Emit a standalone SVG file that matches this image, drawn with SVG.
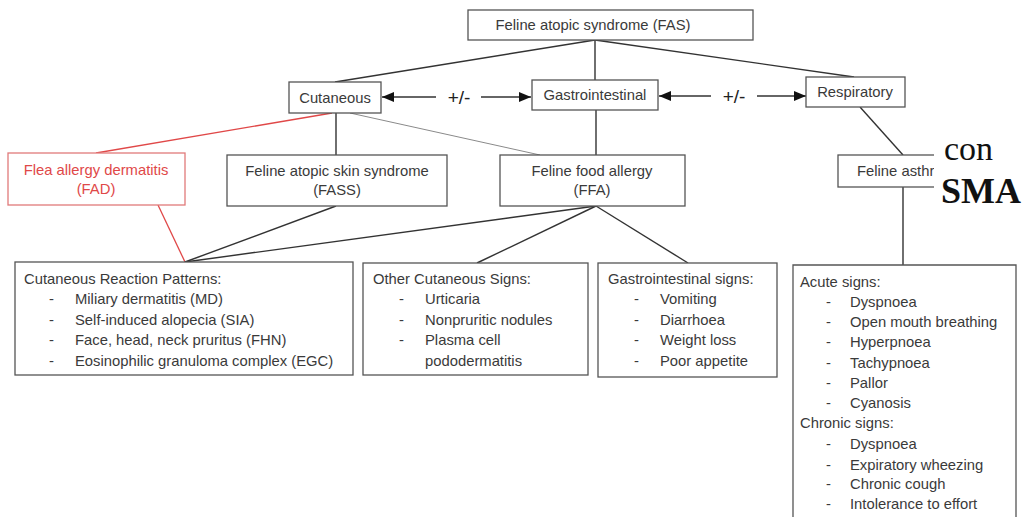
<svg xmlns="http://www.w3.org/2000/svg" width="1024" height="517" viewBox="0 0 1024 517">
  <defs>
    <style>
      .box { fill: #ffffff; stroke: #555555; stroke-width: 1.3; }
      .red-box { fill: #ffffff; stroke: #e07a7a; stroke-width: 1.3; }
      .t { font-family: "Liberation Sans", Arial, sans-serif; font-size: 14.8px; fill: #3a3a3a; }
      .tc { text-anchor: middle; }
      .red { fill: #e04848; }
      .link { stroke: #333333; stroke-width: 1.4; fill: none; }
      .thin { stroke: #8a8a8a; stroke-width: 1; fill: none; }
      .rlink { stroke: #e04848; stroke-width: 1.3; fill: none; }
      .pm { font-family: "Liberation Sans", Arial, sans-serif; font-size: 19px; fill: #222222; text-anchor: middle; }
      .serif { font-family: "Liberation Serif", "Times New Roman", serif; fill: #111111; }
    </style>
    <marker id="head" viewBox="0 0 12 10" refX="12" refY="5" markerWidth="12" markerHeight="10" markerUnits="userSpaceOnUse" orient="auto-start-reverse">
      <path d="M0,0 L12,5 L0,10 z" fill="#111111"/>
    </marker>
  </defs>

  <!-- connectors -->
  <g id="connectors">
    <line class="link" x1="595" y1="40" x2="335" y2="82"/>
    <line class="link" x1="595" y1="40" x2="595" y2="80"/>
    <line class="link" x1="595" y1="40" x2="854" y2="77"/>
    <!-- +/- double arrows -->
    <line class="link" x1="436" y1="97" x2="382" y2="97" marker-end="url(#head)"/>
    <line class="link" x1="481" y1="97" x2="531" y2="97" marker-end="url(#head)"/>
    <line class="link" x1="711" y1="96" x2="659" y2="96" marker-end="url(#head)"/>
    <line class="link" x1="757" y1="96" x2="806" y2="96" marker-end="url(#head)"/>
    <!-- second level -->
    <line class="rlink" x1="332" y1="113" x2="96" y2="153"/>
    <line class="link" x1="336" y1="113" x2="336" y2="155"/>
    <line class="thin" x1="350" y1="113" x2="540" y2="155"/>
    <line class="link" x1="596" y1="110" x2="596" y2="155"/>
    <line class="link" x1="860" y1="107" x2="903" y2="155"/>
    <!-- third level -->
    <line class="rlink" x1="158" y1="205" x2="185" y2="262"/>
    <line class="link" x1="336" y1="206" x2="185" y2="262"/>
    <line class="link" x1="596" y1="206" x2="185" y2="262"/>
    <line class="link" x1="596" y1="206" x2="477" y2="263"/>
    <line class="link" x1="596" y1="206" x2="688" y2="263"/>
    <line class="link" x1="903" y1="187" x2="903" y2="265"/>
  </g>

  <g id="pm-labels">
    <text class="pm" x="459" y="104">+/-</text>
    <text class="pm" x="734" y="103">+/-</text>
  </g>

  <g id="fas">
    <rect class="box" x="468" y="10" width="285" height="30"/>
    <text class="t tc" x="593" y="30">Feline atopic syndrome (FAS)</text>
  </g>

  <g id="cutaneous">
    <rect class="box" x="289" y="82" width="92" height="31"/>
    <text class="t tc" x="335" y="103">Cutaneous</text>
  </g>

  <g id="gastrointestinal">
    <rect class="box" x="532" y="80" width="126" height="30"/>
    <text class="t tc" x="595" y="100">Gastrointestinal</text>
  </g>

  <g id="respiratory">
    <rect class="box" x="806" y="77" width="99" height="30"/>
    <text class="t tc" x="855" y="97">Respiratory</text>
  </g>

  <g id="fad">
    <rect class="red-box" x="8" y="153" width="177" height="52"/>
    <text class="t tc red" x="96" y="175">Flea allergy dermatitis</text>
    <text class="t tc red" x="96" y="194">(FAD)</text>
  </g>

  <g id="fass">
    <rect class="box" x="227" y="155" width="220" height="51"/>
    <text class="t tc" x="337" y="176">Feline atopic skin syndrome</text>
    <text class="t tc" x="337" y="195">(FASS)</text>
  </g>

  <g id="ffa">
    <rect class="box" x="500" y="155" width="185" height="51"/>
    <text class="t tc" x="592" y="176">Feline food allergy</text>
    <text class="t tc" x="592" y="195">(FFA)</text>
  </g>

  <g id="asthma">
    <rect class="box" x="838" y="155" width="120" height="32"/>
    <text class="t" x="857" y="176">Feline asthr</text>
  </g>

  <g id="reaction-patterns">
    <rect class="box" x="15" y="262" width="338" height="113"/>
    <text class="t" x="24" y="284">Cutaneous Reaction Patterns:</text>
    <g class="t">
      <text x="49" y="304">-</text><text x="75" y="304">Miliary dermatitis (MD)</text>
      <text x="49" y="325">-</text><text x="75" y="325">Self-induced alopecia (SIA)</text>
      <text x="49" y="345">-</text><text x="75" y="345">Face, head, neck pruritus (FHN)</text>
      <text x="49" y="366">-</text><text x="75" y="366">Eosinophilic granuloma complex (EGC)</text>
    </g>
  </g>

  <g id="other-cutaneous">
    <rect class="box" x="363" y="263" width="225" height="112"/>
    <text class="t" x="373" y="284">Other Cutaneous Signs:</text>
    <g class="t">
      <text x="399" y="304">-</text><text x="425" y="304">Urticaria</text>
      <text x="399" y="325">-</text><text x="425" y="325">Nonpruritic nodules</text>
      <text x="399" y="345">-</text><text x="425" y="345">Plasma cell</text>
      <text x="425" y="366">pododermatitis</text>
    </g>
  </g>

  <g id="gi-signs">
    <rect class="box" x="598" y="263" width="179" height="114"/>
    <text class="t" x="608" y="284">Gastrointestinal signs:</text>
    <g class="t">
      <text x="634" y="304">-</text><text x="660" y="304">Vomiting</text>
      <text x="634" y="325">-</text><text x="660" y="325">Diarrhoea</text>
      <text x="634" y="345">-</text><text x="660" y="345">Weight loss</text>
      <text x="634" y="366">-</text><text x="660" y="366">Poor appetite</text>
    </g>
  </g>

  <g id="asthma-signs">
    <path class="box" d="M793,530 L793,265 L1016,265 L1016,530"/>
    <text class="t" x="800" y="287">Acute signs:</text>
    <g class="t">
      <text x="826" y="307">-</text><text x="850" y="307">Dyspnoea</text>
      <text x="826" y="327">-</text><text x="850" y="327">Open mouth breathing</text>
      <text x="826" y="347">-</text><text x="850" y="347">Hyperpnoea</text>
      <text x="826" y="368">-</text><text x="850" y="368">Tachypnoea</text>
      <text x="826" y="388">-</text><text x="850" y="388">Pallor</text>
      <text x="826" y="408">-</text><text x="850" y="408">Cyanosis</text>
    </g>
    <text class="t" x="800" y="428">Chronic signs:</text>
    <g class="t">
      <text x="826" y="449">-</text><text x="850" y="449">Dyspnoea</text>
      <text x="826" y="470">-</text><text x="850" y="470">Expiratory wheezing</text>
      <text x="826" y="489">-</text><text x="850" y="489">Chronic cough</text>
      <text x="826" y="509">-</text><text x="850" y="509">Intolerance to effort</text>
    </g>
  </g>

  <!-- pasted slide fragment covering the right edge -->
  <g id="overlay">
    <rect x="934" y="128" width="90" height="136" fill="#ffffff"/>
    <text class="serif" x="944" y="160" font-size="34">con</text>
    <text class="serif" x="941" y="203" font-size="36" font-weight="bold">SMA</text>
  </g>
</svg>
